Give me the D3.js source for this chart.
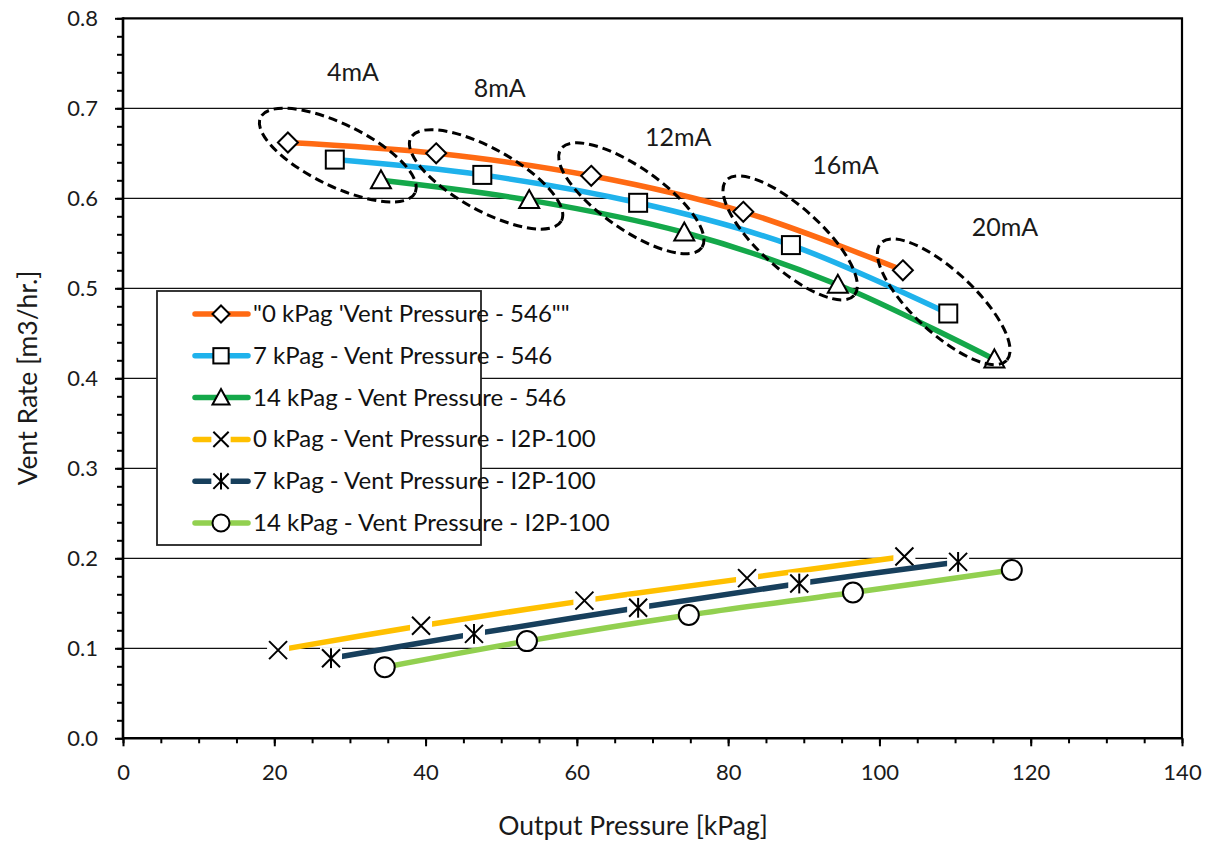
<!DOCTYPE html>
<html>
<head>
<meta charset="utf-8">
<script src="https://cdn.jsdelivr.net/npm/d3@7"></script>
<style>
  html, body { margin: 0; padding: 0; background: #fff; }
  svg { display: block; font-family: Lato, "Open Sans", sans-serif; }
</style>
</head>
<body>
<svg id="chart" width="1208" height="844"></svg>
<script>
// Output pressure [kPag] per series, and vent rate [m3/hr.]
const seriesNames = [
  "\"0 kPag 'Vent Pressure - 546\"\"",
  "7 kPag - Vent Pressure - 546",
  "14 kPag - Vent Pressure - 546",
  "0 kPag - Vent Pressure - I2P-100",
  "7 kPag - Vent Pressure - I2P-100",
  "14 kPag - Vent Pressure - I2P-100"
];
const seriesColors = ["#FF6A13", "#1FB2EC", "#14A84A", "#FFC000", "#173F5C", "#92D050"];
const seriesMarkers = ["diamond", "square", "triangle", "cross", "asterisk", "circle"];

const x546v0  = [21.8, 41.4, 61.9, 82.0, 103.1];
const y546v0  = [0.662, 0.650, 0.625, 0.585, 0.520];
const x546v7  = [28.0, 47.5, 68.1, 88.3, 109.1];
const y546v7  = [0.643, 0.626, 0.595, 0.548, 0.472];
const x546v14 = [34.1, 53.7, 74.2, 94.5, 115.2];
const y546v14 = [0.620, 0.598, 0.562, 0.504, 0.421];
const xI2Pv0  = [20.5, 39.4, 61.0, 82.5, 103.3];
const yI2Pv0  = [0.098, 0.125, 0.153, 0.178, 0.202];
const xI2Pv7  = [27.5, 46.4, 68.1, 89.4, 110.4];
const yI2Pv7  = [0.089, 0.116, 0.145, 0.172, 0.196];
const xI2Pv14 = [34.6, 53.4, 74.8, 96.5, 117.5];
const yI2Pv14 = [0.079, 0.108, 0.137, 0.162, 0.187];

const seriesX = [x546v0, x546v7, x546v14, xI2Pv0, xI2Pv7, xI2Pv14];
const seriesY = [y546v0, y546v7, y546v14, yI2Pv0, yI2Pv7, yI2Pv14];

// Input-current groups: ellipse centre and label anchor in data units
const groupLabels = ["4mA", "8mA", "12mA", "16mA", "20mA"];
const groupCx = [28.4, 48.0, 67.2, 88.2, 108.5];
const groupCy = [0.648, 0.621, 0.600, 0.556, 0.485];
const groupTilt = [26, 29, 35, 42, 43];
const labelX = [30.4, 49.8, 73.4, 95.5, 116.6];
const labelY = [0.740, 0.723, 0.668, 0.637, 0.568];

const xTicks = [0, 20, 40, 60, 80, 100, 120, 140];
const yTicks = [0.0, 0.1, 0.2, 0.3, 0.4, 0.5, 0.6, 0.7, 0.8];

const svg = d3.select("#chart");
const m = { left: 123, right: 1182, top: 18.3, bottom: 738.3 };

const x = d3.scaleLinear().domain([0, 140]).range([m.left, m.right]);
const y = d3.scaleLinear().domain([0, 0.8]).range([m.bottom, m.top]);

// Horizontal gridlines
svg.append("g").selectAll("line").data(yTicks.slice(1, -1)).join("line")
  .attr("x1", m.left).attr("x2", m.right)
  .attr("y1", d => y(d)).attr("y2", d => y(d))
  .attr("stroke", "#111").attr("stroke-width", 1.3);

// Plot border on top and right
svg.append("path")
  .attr("d", `M${m.left},${m.top}H${m.right}V${m.bottom}`)
  .attr("fill", "none").attr("stroke", "#000").attr("stroke-width", 2.2);

// Axes
const yMinor = d3.range(0, 0.8001, 0.02);
const xMinor = d3.range(0, 140.001, 5);

const yAxisMinor = d3.axisLeft(y).tickValues(yMinor).tickSize(6).tickFormat("");
const yAxisMajor = d3.axisLeft(y).tickValues(yTicks).tickSize(8).tickFormat(d3.format(".1f")).tickPadding(17);
const xAxisMinor = d3.axisBottom(x).tickValues(xMinor).tickSize(5).tickFormat("");
const xAxisMajor = d3.axisBottom(x).tickValues(xTicks).tickSize(8).tickFormat(d3.format("d")).tickPadding(18);

function styleAxis(g) {
  g.select(".domain").remove();
  g.selectAll(".tick line").attr("stroke", "#000").attr("stroke-width", 2);
  g.selectAll(".tick text").attr("fill", "#1a1a1a").attr("font-size", 22)
    .attr("font-family", "Lato, 'Open Sans', sans-serif");
}
svg.append("g").attr("transform", `translate(${m.left},0)`).call(yAxisMinor).call(styleAxis);
svg.append("g").attr("transform", `translate(${m.left},0)`).call(yAxisMajor).call(styleAxis);
svg.append("g").attr("transform", `translate(0,${m.bottom})`).call(xAxisMinor).call(styleAxis);
svg.append("g").attr("transform", `translate(0,${m.bottom})`).call(xAxisMajor).call(styleAxis);

svg.append("line").attr("x1", m.left).attr("x2", m.left).attr("y1", m.top - 1).attr("y2", m.bottom + 1)
  .attr("stroke", "#000").attr("stroke-width", 2.6);
svg.append("line").attr("x1", m.left - 1).attr("x2", m.right + 1).attr("y1", m.bottom).attr("y2", m.bottom)
  .attr("stroke", "#000").attr("stroke-width", 2.6);

// Axis titles
svg.append("text").attr("x", 633).attr("y", 835).attr("text-anchor", "middle")
  .attr("font-size", 26.5).attr("fill", "#1a1a1a").text("Output Pressure [kPag]");
svg.append("text").attr("transform", "translate(37,378) rotate(-90)").attr("text-anchor", "middle")
  .attr("font-size", 26.5).attr("fill", "#1a1a1a").text("Vent Rate [m3/hr.]");

// Marker drawing
function drawMarker(g, type, cx, cy, scale) {
  const s = scale || 1;
  const sw = 2;
  if (type === "diamond") {
    const r = 10 * s;
    g.append("path").attr("d", `M${cx},${cy - r}L${cx + r},${cy}L${cx},${cy + r}L${cx - r},${cy}Z`)
      .attr("fill", "#fff").attr("stroke", "#000").attr("stroke-width", sw);
  } else if (type === "square") {
    const r = 9 * s;
    g.append("rect").attr("x", cx - r).attr("y", cy - r).attr("width", 2 * r).attr("height", 2 * r)
      .attr("fill", "#fff").attr("stroke", "#000").attr("stroke-width", sw);
  } else if (type === "triangle") {
    const r = 10 * s;
    g.append("path").attr("d", `M${cx},${cy - r}L${cx + r},${cy + 0.8 * r}L${cx - r},${cy + 0.8 * r}Z`)
      .attr("fill", "#fff").attr("stroke", "#000").attr("stroke-width", sw);
  } else if (type === "circle") {
    g.append("circle").attr("cx", cx).attr("cy", cy).attr("r", 10 * s)
      .attr("fill", "#fff").attr("stroke", "#000").attr("stroke-width", sw);
  } else if (type === "cross" || type === "asterisk") {
    const r = 9 * s;
    g.append("rect").attr("x", cx - r - 2).attr("y", cy - r - 2).attr("width", 2 * r + 4).attr("height", 2 * r + 4)
      .attr("fill", "#fff");
    g.append("path").attr("d", `M${cx - r},${cy - r}L${cx + r},${cy + r}M${cx - r},${cy + r}L${cx + r},${cy - r}`)
      .attr("stroke", "#000").attr("stroke-width", sw);
    if (type === "asterisk") {
      g.append("path").attr("d", `M${cx},${cy - r * 1.1}V${cy + r * 1.1}`)
        .attr("stroke", "#000").attr("stroke-width", sw);
    }
  }
}

// Series lines and markers
const line = d3.line().curve(d3.curveCatmullRom.alpha(0.5)).x(d => x(d[0])).y(d => y(d[1]));
seriesNames.forEach((name, i) => {
  const pts = seriesX[i].map((v, j) => [v, seriesY[i][j]]);
  const g = svg.append("g");
  g.append("path").datum(pts).attr("d", line)
    .attr("fill", "none").attr("stroke", seriesColors[i]).attr("stroke-width", 5.5);
  pts.forEach(p => drawMarker(g, seriesMarkers[i], x(p[0]), y(p[1])));
});

// Current group ellipses and labels
groupLabels.forEach((lab, i) => {
  svg.append("ellipse")
    .attr("transform", `translate(${x(groupCx[i])},${y(groupCy[i])}) rotate(${groupTilt[i]})`)
    .attr("rx", 86).attr("ry", 31)
    .attr("fill", "none").attr("stroke", "#000").attr("stroke-width", 3)
    .attr("stroke-dasharray", "9,5");
  svg.append("text").attr("x", x(labelX[i])).attr("y", y(labelY[i]) + 9)
    .attr("text-anchor", "middle").attr("font-size", 25).attr("fill", "#1a1a1a").text(lab);
});

// Legend
const lg = svg.append("g");
lg.append("rect").attr("x", 157).attr("y", 291).attr("width", 324).attr("height", 254)
  .attr("fill", "#fff").attr("stroke", "#222").attr("stroke-width", 1.8);
seriesNames.forEach((name, i) => {
  const cy = 314 + i * 41.8;
  lg.append("line").attr("x1", 195).attr("x2", 248).attr("y1", cy).attr("y2", cy)
    .attr("stroke", seriesColors[i]).attr("stroke-width", 5.5).attr("stroke-linecap", "round");
  drawMarker(lg, seriesMarkers[i], 221, cy, 0.85);
  lg.append("text").attr("x", 253).attr("y", cy + 8).attr("font-size", 24).attr("fill", "#111").text(name);
});
</script>
</body>
</html>
